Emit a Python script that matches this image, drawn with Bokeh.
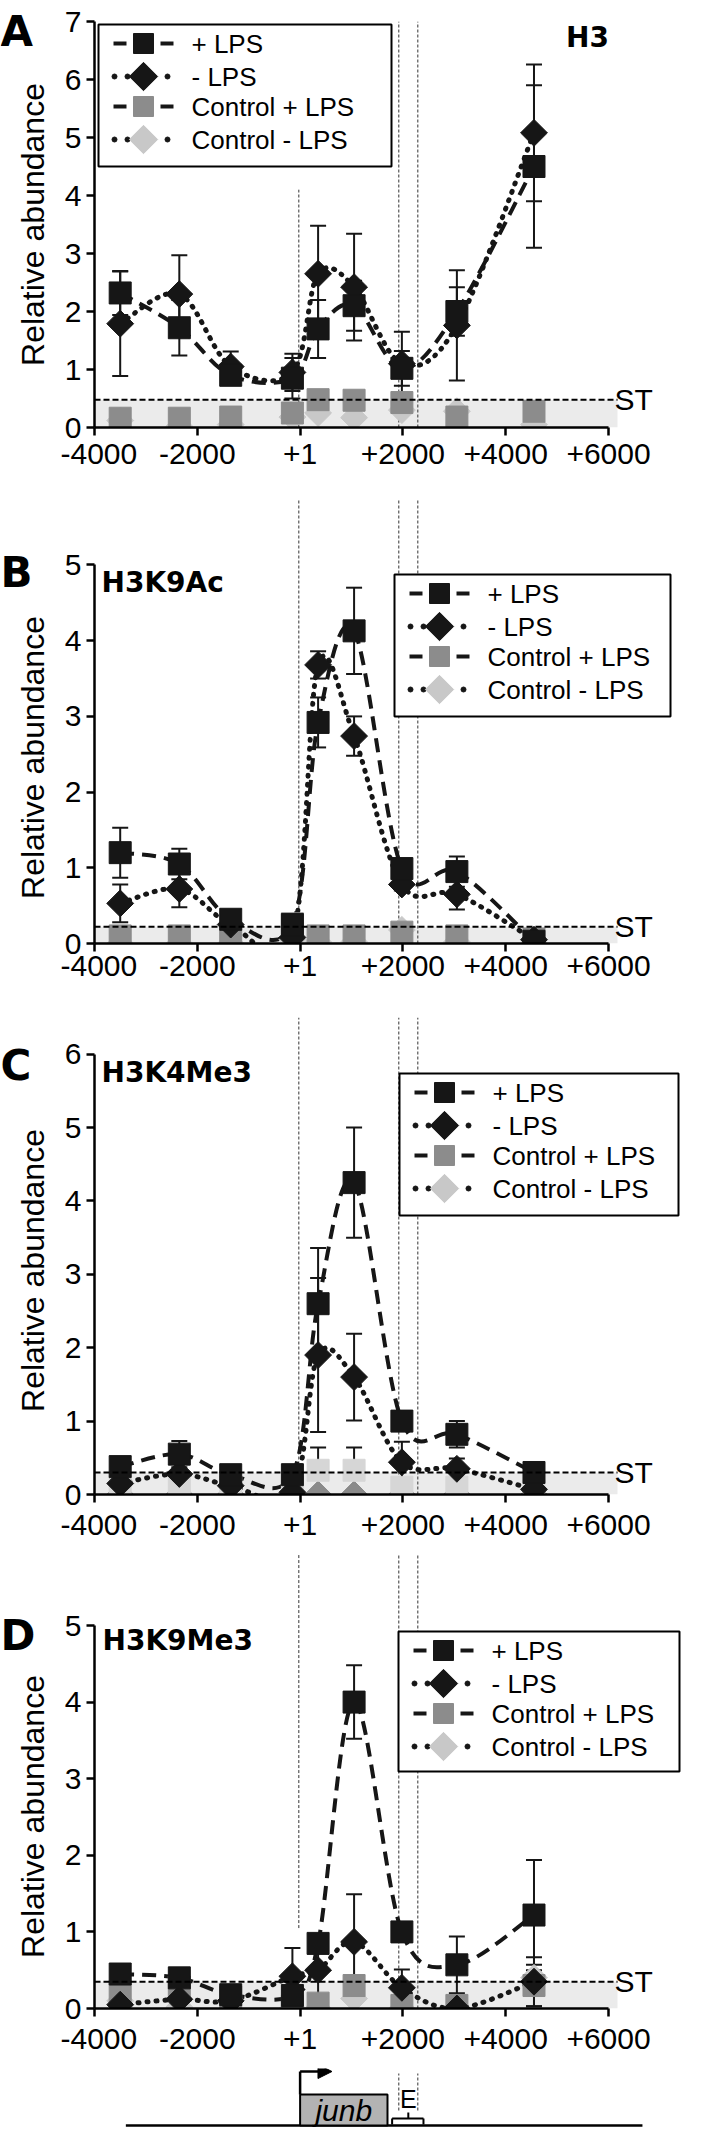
import numpy as np
from bokeh.plotting import figure
from bokeh.models import (Range1d, FixedTicker, Label, BoxAnnotation, Arrow, NormalHead)
from bokeh.layouts import column, row
from bokeh.embed import file_html
from bokeh.resources import INLINE
from bokeh.core.properties import value

# ---------------- data ----------------
positions = [-3500, -2350, -1350, -150, 350, 1050, 1980, 3050, 4550]
x_ticks = [-4000, -2000, 0, 2000, 4000, 6000]
x_tick_labels = ["-4000", "-2000", "+1", "+2000", "+4000", "+6000"]
landmarks = [-25, 1920, 2290]          # TSS, gene end, enhancer end
series_names = ["+ LPS", "- LPS", "Control + LPS", "Control - LPS"]
panel_letters = ["A", "B", "C", "D"]
panel_titles = ["H3", "H3K9Ac", "H3K4Me3", "H3K9Me3"]

# A: H3
h3_plus = [2.32, 1.72, 0.90, 0.85, 1.70, 2.10, 1.02, 2.00, 4.50]
h3_plus_err = [0.38, 0.48, 0.15, 0.35, 0.50, 0.43, 0.30, 0.42, 1.40]
h3_minus = [1.79, 2.30, 1.05, 0.95, 2.65, 2.42, 1.10, 1.76, 5.08]
h3_minus_err = [0.90, 0.67, 0.26, 0.32, 0.83, 0.92, 0.55, 0.95, 1.18]
h3_ctrl_plus = [0.16, 0.16, 0.18, 0.25, 0.48, 0.47, 0.43, 0.18, 0.28]
h3_ctrl_plus_err = [0, 0, 0, 0, 0, 0, 0, 0, 0]
h3_ctrl_minus = [0.12, 0.02, 0.05, 0.18, 0.25, 0.17, 0.30, 0.28, 0.05]
h3_st = 0.48

# B: H3K9Ac
k9ac_plus = [1.20, 1.05, 0.32, 0.25, 2.92, 4.13, 0.99, 0.95, 0.03]
k9ac_plus_err = [0.33, 0.20, 0.05, 0.05, 0.33, 0.57, 0.08, 0.20, 0.02]
k9ac_minus = [0.53, 0.72, 0.25, 0.08, 3.68, 2.74, 0.78, 0.65, 0.05]
k9ac_minus_err = [0.25, 0.24, 0.05, 0.05, 0.18, 0.26, 0.08, 0.20, 0.02]
k9ac_ctrl_plus = [0.10, 0.10, 0.10, 0.26, 0.10, 0.10, 0.15, 0.10, 0.06]
k9ac_ctrl_plus_err = [0, 0, 0, 0, 0, 0, 0, 0, 0]
k9ac_ctrl_minus = [0.00, 0.00, 0.00, 0.05, 0.02, 0.02, 0.18, 0.02, 0.00]
k9ac_st = 0.22

# C: H3K4Me3
k4me3_plus = [0.38, 0.55, 0.27, 0.27, 2.60, 4.25, 1.00, 0.82, 0.30]
k4me3_plus_err = [0.05, 0.18, 0.03, 0.03, 0.76, 0.75, 0.05, 0.18, 0.05]
k4me3_minus = [0.15, 0.28, 0.12, 0.03, 1.90, 1.60, 0.44, 0.35, 0.07]
k4me3_minus_err = [0.03, 0.05, 0.03, 0.02, 1.05, 0.59, 0.28, 0.14, 0.02]
k4me3_ctrl_plus = [0.10, 0.10, 0.10, 0.10, 0.33, 0.33, 0.10, 0.10, 0.05]
k4me3_ctrl_plus_err = [0, 0, 0, 0, 0.31, 0.31, 0, 0, 0]
k4me3_ctrl_minus = [0.0, 0.0, 0.0, 0.0, 0.0, 0.0, 0.0, 0.0, 0.0]
k4me3_st = 0.30

# D: H3K9Me3
k9me3_plus = [0.45, 0.40, 0.18, 0.17, 0.85, 4.00, 1.00, 0.57, 1.22]
k9me3_plus_err = [0.05, 0.05, 0.05, 0.05, 0.10, 0.48, 0.05, 0.37, 0.72]
k9me3_minus = [0.05, 0.12, 0.10, 0.42, 0.50, 0.87, 0.27, 0.00, 0.35]
k9me3_minus_err = [0.03, 0.03, 0.03, 0.37, 0.45, 0.62, 0.24, 0.05, 0.32]
k9me3_ctrl_plus = [0.22, 0.28, 0.15, 0.03, 0.07, 0.30, 0.04, 0.04, 0.30]
k9me3_ctrl_plus_err = [0, 0, 0, 0, 0, 0, 0, 0, 0.27]
k9me3_ctrl_minus = [0.10, 0.02, 0.10, 0.00, 0.00, 0.13, 0.00, 0.00, 0.40]
k9me3_st = 0.35

# gene diagram
gene_start, gene_end = 0, 1700
baseline_extent = [-3390, 6660]

# ---------------- styles / geometry ----------------
BLACK = "#161616"
GRAY = "#8c8c8c"
LIGHT = "#c8c8c8"
FONT = "Liberation Sans"
BOLD_FONT = "DejaVu Sans"
DASH = "14 8"
DOT = "1 8"
LEFT_W = 60                 # narrow figure holding the letters and y labels
FIG_W = 626                 # panel figures
BORDER_L = 34
FRAME_LEFT_PAGE = 8 + LEFT_W + BORDER_L      # 102
X_END = 7517
XPP = (X_END + 4000) / (FIG_W - BORDER_L)    # bp per pixel


def smooth(xs, ys):
    n = len(xs)
    out = dict(x0=[], y0=[], x1=[], y1=[], cx0=[], cy0=[], cx1=[], cy1=[])
    for i in range(n - 1):
        pm = i - 1 if i > 0 else i
        pp = i + 2 if i + 2 < n else i + 1
        out["x0"].append(xs[i]); out["y0"].append(ys[i])
        out["x1"].append(xs[i + 1]); out["y1"].append(ys[i + 1])
        out["cx0"].append(xs[i] + (xs[i + 1] - xs[pm]) / 6.0)
        out["cy0"].append(ys[i] + (ys[i + 1] - ys[pm]) / 6.0)
        out["cx1"].append(xs[i + 1] - (xs[pp] - xs[i]) / 6.0)
        out["cy1"].append(ys[i + 1] - (ys[pp] - ys[i]) / 6.0)
    return out


def errorbars(p, xs, ys, errs):
    bx = [x for x, e in zip(xs, errs) if e > 0]
    lo = [y - e for y, e in zip(ys, errs) if e > 0]
    hi = [y + e for y, e in zip(ys, errs) if e > 0]
    if not bx:
        return
    p.segment(x0=bx, y0=lo, x1=bx, y1=hi, line_color=BLACK, line_width=2)
    p.scatter(bx, hi, marker="dash", size=16, line_color=BLACK, line_width=2)
    p.scatter(bx, lo, marker="dash", size=16, line_color=BLACK, line_width=2)


ROW_OFF = [19, 52, 82, 115]


def add_legend(p, box, frame_bottom, ppu):
    L, T, R, B = box
    X = lambda px: -4000 + (px - FRAME_LEFT_PAGE) * XPP
    Y = lambda py: (frame_bottom - py) / ppu
    p.add_layout(BoxAnnotation(left=X(L), right=X(R), top=Y(T), bottom=Y(B),
                               fill_color="white", fill_alpha=1, line_color="black",
                               line_alpha=1, line_width=2))
    styles = [("square", 0, 20, BLACK, True),
              ("square", np.pi / 4, 20, BLACK, False),
              ("square", 0, 20, GRAY, True),
              ("square", np.pi / 4, 20, LIGHT, False)]
    for name, (mk, ang, sz, col, dashed), off in zip(series_names, styles, ROW_OFF):
        cy = Y(T + off)
        if dashed:
            p.segment(x0=[X(L + 15), X(L + 62)], x1=[X(L + 28), X(L + 75)],
                      y0=[cy, cy], y1=[cy, cy], line_color=BLACK, line_width=4,
                      level="overlay")
        else:
            p.scatter([X(L + 16), X(L + 29), X(L + 69)], [cy] * 3, marker="circle",
                      size=5, fill_color=BLACK, line_color=BLACK, level="overlay")
        p.scatter([X(L + 45)], [cy], marker=mk, angle=ang, size=sz,
                  fill_color=col, line_color=col, level="overlay")
        p.add_layout(Label(x=X(L + 93), y=cy, text=name, text_font=FONT,
                           text_font_size="26px", text_baseline="middle",
                           text_align="left", text_color="black"))


def panel(title, plus, plus_err, minus, minus_err, cp, cp_err, cm, st,
          height, top_b, bot_b, ytop, ymax_tick, label_standoff, vlines,
          title_xy, title_align, legend_box, frame_bottom,
          cp_color=GRAY, cm_color=LIGHT):
    p = figure(width=FIG_W, height=height, x_range=Range1d(-4000, X_END),
               y_range=Range1d(0, ytop), output_backend="svg", toolbar_location=None,
               min_border_left=BORDER_L, min_border_right=0, min_border_top=top_b,
               min_border_bottom=bot_b)
    p.outline_line_color = None
    p.xgrid.visible = False
    p.ygrid.visible = False

    for ax in (p.xaxis[0], p.yaxis[0]):
        ax.axis_line_width = 2.5
        ax.axis_line_color = "black"
        ax.major_tick_line_width = 2.5
        ax.major_tick_line_color = "black"
        ax.major_tick_in = 0
        ax.major_tick_out = 8
        ax.minor_tick_line_color = None
        ax.major_label_text_font = FONT
        ax.major_label_text_font_size = "30px"
        ax.major_label_text_color = "black"
    p.xaxis.ticker = FixedTicker(ticks=x_ticks)
    p.xaxis.major_label_overrides = {t: l for t, l in zip(x_ticks, x_tick_labels)}
    p.xaxis.major_label_standoff = label_standoff
    p.xaxis.bounds = (-4000, 6000)
    p.yaxis.ticker = FixedTicker(ticks=list(range(ymax_tick + 1)))
    p.yaxis.bounds = (0, ymax_tick)
    p.yaxis.major_label_standoff = 5

    band_right = 6000 + 9 * XPP
    p.add_layout(BoxAnnotation(left=-4000, right=band_right, bottom=0, top=st,
                               fill_color="#ebebeb", fill_alpha=1, line_color=None,
                               level="underlay"))
    p.segment(x0=[v[0] for v in vlines], x1=[v[0] for v in vlines],
              y0=[v[1] for v in vlines], y1=[v[2] for v in vlines],
              line_color="#333333", line_width=1, line_dash="3 2")

    p.bezier(**smooth(positions, plus), line_color=BLACK, line_width=4, line_dash=DASH)
    p.bezier(**smooth(positions, minus), line_color=BLACK, line_width=5,
             line_dash=DOT, line_cap="round")

    errorbars(p, positions, cp, cp_err)
    errorbars(p, positions, plus, plus_err)
    errorbars(p, positions, minus, minus_err)

    p.scatter(positions, cm, marker="square", angle=np.pi / 4, size=19,
              fill_color=cm_color, line_color=cm_color)
    p.scatter(positions, cp, marker="square", size=22, fill_color=cp_color, line_color=cp_color)
    p.scatter(positions, minus, marker="square", angle=np.pi / 4, size=19,
              fill_color=BLACK, line_color=BLACK)
    p.scatter(positions, plus, marker="square", size=22, fill_color=BLACK, line_color=BLACK)

    # ST threshold line
    p.segment(x0=[-4000], x1=[band_right], y0=[st], y1=[st], line_color="black",
              line_width=2, line_dash="6 3")

    ppu = (height - top_b - bot_b) / ytop
    add_legend(p, legend_box, frame_bottom, ppu)

    p.add_layout(Label(x=title_xy[0], y=title_xy[1], x_units="screen", y_units="screen",
                       text=title, text_font=BOLD_FONT, text_font_style="bold",
                       text_font_size="28px", text_baseline="middle",
                       text_align=title_align, text_color="black"))
    p.add_layout(Label(x=520, y=st, x_units="screen", y_units="data", text="ST",
                       text_font=FONT, text_font_size="30px", text_baseline="middle",
                       text_align="left", text_color="black"))
    return p


pA = panel(panel_titles[0], h3_plus, h3_plus_err, h3_minus, h3_minus_err,
           h3_ctrl_plus, h3_ctrl_plus_err, h3_ctrl_minus, h3_st,
           height=492, top_b=21, bot_b=65, ytop=7, ymax_tick=7, label_standoff=8,
           vlines=[(landmarks[0], 0, 4.1), (landmarks[1], 0, 7), (landmarks[2], 0, 7)],
           title_xy=(493, 390), title_align="center",
           legend_box=(106, 32, 399, 174), frame_bottom=435)

pB = panel(panel_titles[1], k9ac_plus, k9ac_plus_err, k9ac_minus, k9ac_minus_err,
           k9ac_ctrl_plus, k9ac_ctrl_plus_err, k9ac_ctrl_minus, k9ac_st,
           height=506, top_b=7, bot_b=55, ytop=5.865, ymax_tick=5, label_standoff=4,
           vlines=[(landmarks[0], 0, 5.865), (landmarks[1], 0, 5.865), (landmarks[2], 0, 5.865)],
           title_xy=(7, 361), title_align="left",
           legend_box=(402, 582, 678, 724), frame_bottom=951)

pC = panel(panel_titles[2], k4me3_plus, k4me3_plus_err, k4me3_minus, k4me3_minus_err,
           k4me3_ctrl_plus, k4me3_ctrl_plus_err, k4me3_ctrl_minus, k4me3_st,
           height=556, top_b=19, bot_b=60, ytop=6.50, ymax_tick=6, label_standoff=12,
           vlines=[(landmarks[0], 0, 6.5), (landmarks[1], 0, 6.5), (landmarks[2], 0, 6.5)],
           title_xy=(7, 422), title_align="left",
           legend_box=(407, 1081, 686, 1223), frame_bottom=1502,
           cp_color="#d6d6d6", cm_color="#8a8a8a")

pD = panel(panel_titles[3], k9me3_plus, k9me3_plus_err, k9me3_minus, k9me3_minus_err,
           k9me3_ctrl_plus, k9me3_ctrl_plus_err, k9me3_ctrl_minus, k9me3_st,
           height=514, top_b=0, bot_b=60, ytop=5.927, ymax_tick=5, label_standoff=12,
           vlines=[(landmarks[0], 1.05, 5.927), (landmarks[1], 0, 5.927), (landmarks[2], 0, 5.927)],
           title_xy=(8, 368), title_align="left",
           legend_box=(406, 1639, 687, 1779), frame_bottom=2016)

# ---------------- gene diagram ----------------
pG = figure(width=FIG_W, height=60, x_range=Range1d(-4000, X_END), y_range=Range1d(0, 60),
            output_backend="svg", toolbar_location=None, min_border_left=BORDER_L,
            min_border_right=0, min_border_top=0, min_border_bottom=0)
pG.axis.visible = False
pG.xgrid.visible = False
pG.ygrid.visible = False
pG.outline_line_color = None
pG.segment(x0=[landmarks[1], landmarks[2]], x1=[landmarks[1], landmarks[2]],
           y0=[18, 18], y1=[55, 55], line_color="#333333", line_width=1, line_dash="3 2")
pG.segment(x0=[baseline_extent[0]], x1=[baseline_extent[1]], y0=[3], y1=[3],
           line_color="black", line_width=2.5)
pG.quad(left=[gene_start], right=[gene_end], bottom=[3], top=[34],
        fill_color="#b3b3b3", line_color="black", line_width=2)
pG.segment(x0=[gene_start], x1=[gene_start], y0=[34], y1=[57], line_color="black", line_width=2.5)
pG.add_layout(Arrow(x_start=gene_start, y_start=57, x_end=620, y_end=57,
                    line_color="black", line_width=2.5,
                    end=NormalHead(size=14, fill_color="black", line_color="black")))
pG.text(x=[(gene_start + gene_end) / 2], y=[18], text=["junb"],
        text_font=value(FONT), text_font_style="italic", text_font_size="30px",
        text_align="center", text_baseline="middle", text_color="black")
enh_mid = (landmarks[1] + landmarks[2]) / 2
pG.segment(x0=[landmarks[1] - 130, landmarks[1] - 130, landmarks[2] + 110, enh_mid],
           x1=[landmarks[2] + 110, landmarks[1] - 130, landmarks[2] + 110, enh_mid],
           y0=[10, 10, 10, 10], y1=[10, 4, 4, 16], line_color="black", line_width=2)
pG.text(x=[enh_mid], y=[30], text=["E"], text_font=value(FONT), text_font_size="25px",
        text_align="center", text_baseline="middle", text_color="black")

# ---------------- left strip: panel letters and y-axis titles ----------------
total_h = 492 + 506 + 556 + 514 + 60
pL = figure(width=LEFT_W, height=total_h, x_range=Range1d(8, 8 + LEFT_W),
            y_range=Range1d(8 + total_h, 8), output_backend="svg", toolbar_location=None,
            min_border_left=0, min_border_right=0, min_border_top=0, min_border_bottom=0)
pL.axis.visible = False
pL.xgrid.visible = False
pL.ygrid.visible = False
pL.outline_line_color = None
letter_baselines = [39, 580, 1073, 1643]
ylabel_centers = [232, 765, 1278, 1824]
for letter, yb in zip(panel_letters, letter_baselines):
    pL.add_layout(Label(x=8, y=yb, text=letter, text_font=BOLD_FONT, text_font_style="bold",
                        text_font_size="42px", text_baseline="alphabetic",
                        text_align="left", text_color="black"))
for yc in ylabel_centers:
    pL.add_layout(Label(x=40.5, y=yc, text="Relative abundance", angle=np.pi / 2,
                        text_font=FONT, text_font_size="32px", text_align="center",
                        text_baseline="middle", text_color="black"))

layout = row(pL, column(pA, pB, pC, pD, pG, spacing=0), spacing=0)
open("out.html", "w").write(file_html(layout, INLINE))
